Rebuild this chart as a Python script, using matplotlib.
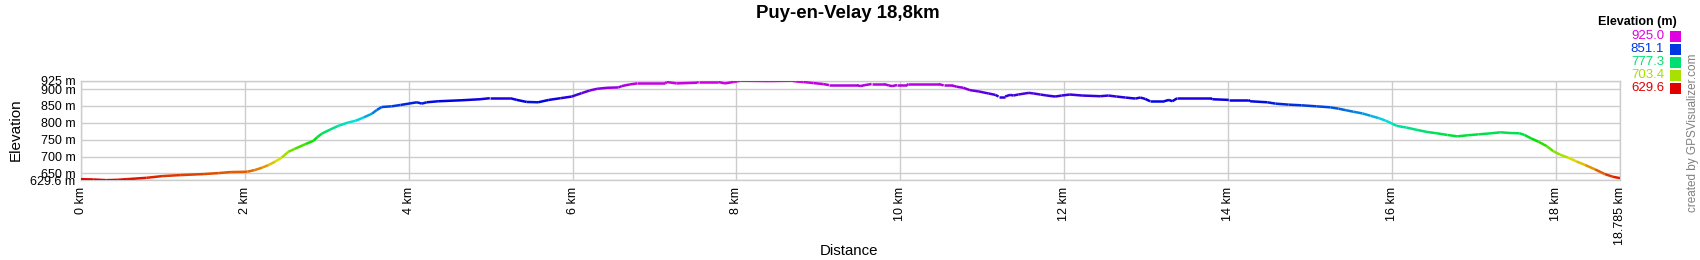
import matplotlib
matplotlib.use("Agg")
import matplotlib.pyplot as plt
import numpy as np
import colorsys
from matplotlib.collections import LineCollection
from matplotlib.patches import Rectangle

plt.rcParams['font.family'] = ['Liberation Sans', 'DejaVu Sans']

title = "Puy-en-Velay 18,8km"
dist_km = [0.00, 0.15, 0.31, 0.45, 0.56, 0.80, 0.99, 1.21, 1.49, 1.68, 1.82, 2.03, 2.12, 2.21, 2.29, 2.37, 2.45,
           2.53, 2.61, 2.74, 2.84, 2.88, 2.94, 3.04, 3.14, 3.26, 3.35, 3.45, 3.55, 3.61, 3.67, 3.79, 3.90, 4.10,
           4.16, 4.22, 4.36, 4.65, 4.87, 4.99, 5.24, 5.32, 5.44, 5.58, 5.71, 5.85, 5.99, 6.11, 6.21, 6.30, 6.42,
           6.56, 6.60, 6.70, 6.79, 7.13, 7.15, 7.27, 7.52, 7.54, 7.78, 7.86, 7.96, 8.05, 8.40, 8.68, 8.72, 8.82,
           8.94, 9.06, 9.13, 9.47, 9.51, 9.57, 9.65, 9.80, 9.86, 9.90, 9.96, 10.08, 10.10, 10.47, 10.53, 10.63,
           10.69, 10.77, 10.85, 10.96, 11.08, 11.16, 11.20, 11.28, 11.34, 11.38, 11.44, 11.57, 11.63, 11.71,
           11.79, 11.89, 11.97, 12.07, 12.22, 12.44, 12.54, 12.64, 12.75, 12.87, 12.93, 12.99, 13.05, 13.22,
           13.28, 13.32, 13.38, 13.79, 13.81, 14.01, 14.25, 14.27, 14.48, 14.58, 14.74, 14.90, 15.08, 15.25,
           15.35, 15.43, 15.53, 15.64, 15.74, 15.84, 15.92, 16.00, 16.06, 16.18, 16.31, 16.43, 16.55, 16.68,
           16.80, 16.92, 17.06, 17.21, 17.33, 17.43, 17.56, 17.62, 17.70, 17.79, 17.89, 17.97, 18.05, 18.15,
           18.25, 18.36, 18.48, 18.60, 18.70, 18.785]
elev_m = [633, 632, 630, 631, 633, 637, 642, 645, 648, 651, 654, 655, 660, 667, 675, 685, 697,
          714, 723, 737, 747, 757, 768, 780, 791, 801, 806, 816, 827, 838, 847, 849, 853, 861,
          857, 861, 864, 867, 870, 873, 873, 868, 862, 861, 868, 873, 878, 888, 896, 901, 904,
          905, 909, 914, 917, 917, 921, 917, 919, 921, 921, 917, 921, 925, 924, 925, 923, 921,
          918, 915, 912, 912, 909, 912, 915, 915, 911, 909, 912, 912, 915, 915, 911, 911,
          907, 904, 897, 893, 887, 883, 878, 878, 883, 881, 884, 889, 887, 884,
          881, 878, 881, 884, 881, 879, 881, 878, 875, 872, 875, 871, 864, 864,
          868, 864, 873, 873, 870, 868, 868, 864, 861, 857, 854, 852, 849, 846,
          842, 838, 833, 828, 821, 814, 807, 798, 791, 786, 779, 773, 769, 764,
          760, 763, 766, 769, 772, 770, 769, 764, 754, 744, 731, 716, 706, 697,
          686, 675, 662, 648, 640, 636]

elev_min, elev_max = 629.6, 925.0
ytick_vals = [629.6, 650, 700, 750, 800, 850, 900, 925]
ytick_labels = ["629.6 m", "650 m", "700 m", "750 m", "800 m", "850 m", "900 m", "925 m"]
xtick_vals = [0, 2, 4, 6, 8, 10, 12, 14, 16, 18, 18.785]
xtick_labels = ["0 km", "2 km", "4 km", "6 km", "8 km", "10 km", "12 km", "14 km", "16 km", "18 km", "18.785 km"]
legend_vals = [925.0, 851.1, 777.3, 703.4, 629.6]


def elev_color(e):
    t = (e - elev_min) / (elev_max - elev_min)
    t = min(max(t, 0), 1)
    return colorsys.hsv_to_rgb(t * 300 / 360, 1.0, 0.88)


fig = plt.figure(figsize=(17, 2.6), dpi=100)
W, H = 1700, 260
ax = fig.add_axes([81 / W, 1 - 180.3 / H, (1620 - 81) / W, (180.3 - 80.7) / H])

x = np.array(dist_km)
y = np.array(elev_m, dtype=float)
pts = np.column_stack([x, y]).reshape(-1, 1, 2)
segs = np.concatenate([pts[:-1], pts[1:]], axis=1)
cols = [elev_color((a + b) / 2) for a, b in zip(y[:-1], y[1:])]
lc = LineCollection(segs, colors=cols, linewidths=1.8, capstyle='butt', zorder=3)
ax.add_collection(lc)

ax.set_xlim(0, 18.785)
ax.set_ylim(elev_min, elev_max)
ax.set_yticks(ytick_vals)
ax.set_yticklabels(ytick_labels)
ax.set_xticks(xtick_vals)
ax.set_xticklabels(xtick_labels, rotation=90)
ax.tick_params(axis='both', length=0, labelsize=9, colors='#000000')
ax.tick_params(axis='y', pad=4)
ax.tick_params(axis='x', pad=5)
ax.grid(True, color='#cccccc', linewidth=1.0)
ax.set_axisbelow(True)
for s in ax.spines.values():
    s.set_color('#cccccc')
    s.set_linewidth(1.0)

fig.text(848 / W, 1 - 14 / H, title, ha='center', va='center', fontsize=13.4, fontweight='bold')
fig.text(16 / W, 1 - 130 / H, "Elevation", ha='center', va='center', rotation=90, fontsize=11)
fig.text(849 / W, 1 - 251 / H, "Distance", ha='center', va='center', fontsize=10.8)

fig.text(1677 / W, 1 - 21.5 / H, "Elevation (m)", ha='right', va='center', fontsize=9, fontweight='bold')
row_y = [36, 49, 62, 75, 88]
for v, ry in zip(legend_vals, row_y):
    c = elev_color(v)
    fig.text(1664 / W, 1 - ry / H, f"{v:.1f}", ha='right', va='center', fontsize=9.5, color=c)
    fig.patches.append(Rectangle((1670 / W, 1 - (ry + 5.5) / H), 11 / W, 11 / H,
                                 transform=fig.transFigure, facecolor=c, edgecolor='none'))

fig.text(1693 / W, 1 - 133 / H, "created by GPSVisualizer.com", ha='center', va='center', rotation=90,
         fontsize=8.5, color='#808080')

fig.savefig("out.png", dpi=100, facecolor='white')
